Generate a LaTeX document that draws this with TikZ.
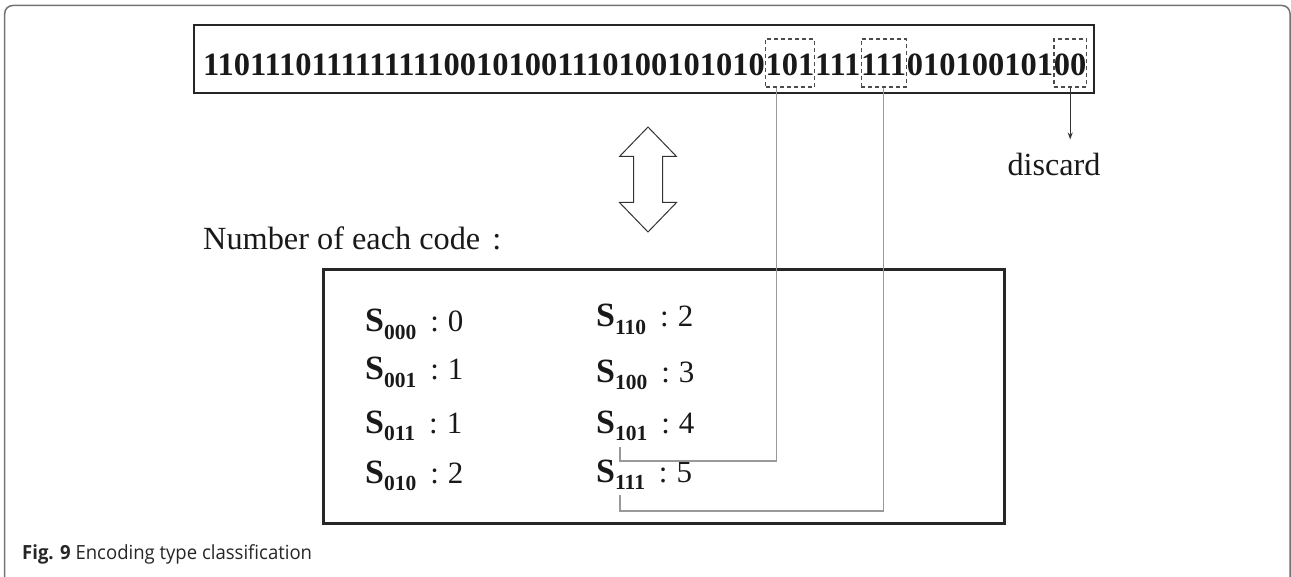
\documentclass[tikz,border=0pt]{standalone}
\usepackage{fontspec}
\setmainfont{Liberation Serif}
\newfontfamily\capfont{Open Sans}
\usetikzlibrary{arrows.meta}
\newcommand{\scode}[2]{{\fontsize{34}{34}\selectfont\bfseries S}\raisebox{-7.5pt}{\fontsize{21.5}{21.5}\selectfont\bfseries #1}\hspace{14pt}{\fontsize{31}{31}\selectfont :\hspace{9pt}#2}}
\begin{document}
\begin{tikzpicture}[x=1pt,y=-1pt,
  txt/.style={inner sep=0pt, anchor=base west, text=black!90},
  bit/.style={inner xsep=0pt, inner ysep=0pt, anchor=base west, font=\fontsize{32.5}{36}\selectfont\bfseries, text=black!90},
  dbox/.style={bit, draw=black!70, dash pattern=on 4pt off 3pt, line width=1.1pt, text height=36pt, text depth=10pt, inner ysep=1pt},
  conn/.style={draw=black!40, line width=1.1pt},
  frame/.style={draw=black!85, line width=2.6pt, inner sep=0pt},
]
\useasboundingbox (0,0) rectangle (1291,577);
\draw[draw=black!55, line width=1.5pt, rounded corners=8pt] (4.7,582) -- (4.7,5.5) -- (1290,5.5) -- (1290,582);
% top bit string
\node[frame, minimum width=900pt, minimum height=68pt] (topbox) at (644,59) {};
\node[bit] (pre) at (203,76) {110111011111111100101001110100101010};
\node[dbox] (b1) at (pre.base east) {101};
\node[bit] (b2) at (b1.base east) {111};
\node[dbox] (b3) at (b2.base east) {111};
\node[bit] (b4) at (b3.base east) {010100101};
\node[dbox] (b5) at (b4.base east) {00};
% double arrow
\draw[draw=black!80, line width=1pt, line join=miter]
  (648,127) -- (676.5,156.5) -- (662.5,156.5) -- (662.5,202.5) -- (676.5,202.5)
  -- (648,232) -- (619.5,202.5) -- (633.5,202.5) -- (633.5,156.5) -- (619.5,156.5) -- cycle;
% discard
\node[txt, font=\fontsize{32.2}{36}\selectfont, anchor=base] (disc) at (1054,176) {discard};
\draw[draw=black!80, line width=1pt, shorten >=14pt, -{Stealth[length=7pt,width=5pt]}] (b5.south) -- (b5.south |- disc.north);
% table
\node[txt, font=\fontsize{32.3}{36}\selectfont] (num) at (203,250) {Number of each code\hspace{12pt}:};
\node[frame, line width=3pt, minimum width=681pt, minimum height=254pt] (tbl) at (663.5,396.5) {};
\node[txt] (s000) at (365,332) {\scode{000}{0}};
\node[txt] (s001) at (365,380) {\scode{001}{1}};
\node[txt] (s011) at (365,433) {\scode{011}{1}};
\node[txt] (s010) at (365,483) {\scode{010}{2}};
\node[txt] (s110) at (596,327) {\scode{110}{2}};
\node[txt] (s100) at (596,382) {\scode{100}{3}};
\node[txt] (s101) at (596,433) {\scode{101}{4}};
\node[txt] (s111) at (596,482) {\scode{111}{5}};
% connectors
\coordinate (e101) at (620,447); \coordinate (j101) at (620,461);
\coordinate (e111) at (620,495); \coordinate (j111) at (620,511);
\draw[conn] ([xshift=-13.5pt]b1.south) |- (j101) -- (e101);
\draw[conn] (b3.south) |- (j111) -- (e111);
% caption
\node[txt, font=\capfont\fontsize{19.5}{21}\selectfont, text=black!85] (cap) at (22,559) {\scalebox{0.95}[1]{\textbf{Fig. 9} Encoding type classification}};
\end{tikzpicture}
\end{document}
